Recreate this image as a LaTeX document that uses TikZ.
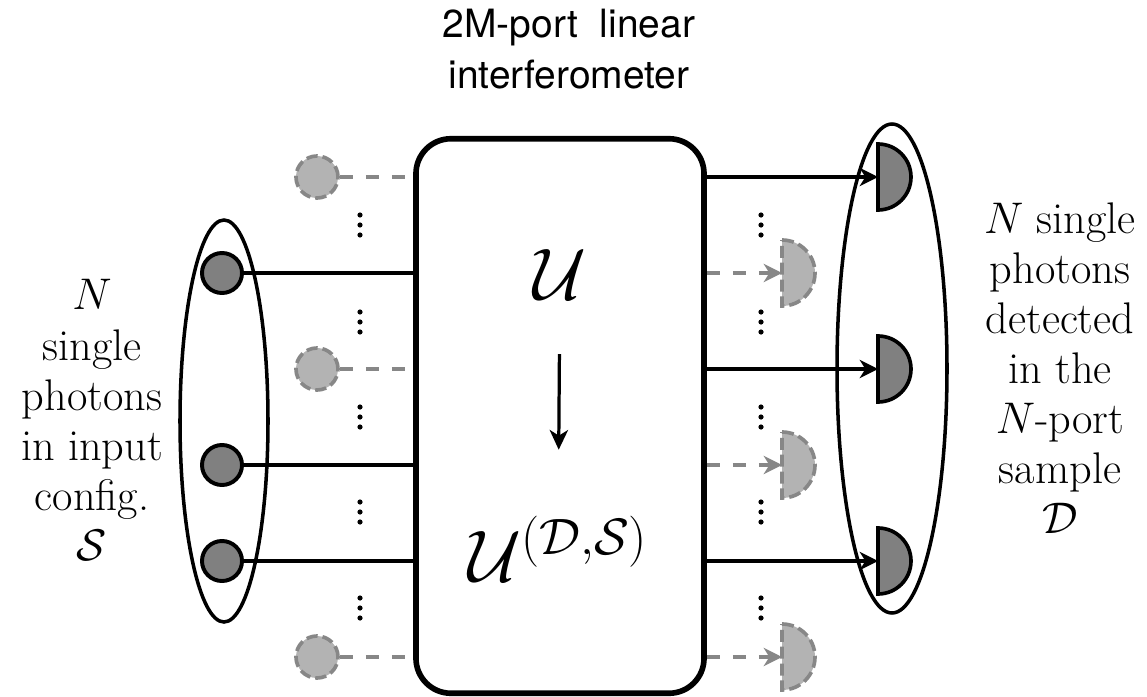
\RequirePackage{fix-cm}
\documentclass[tikz,border=0pt]{standalone}
\usepackage{amsmath,amssymb}
\usepackage{fontspec}
\newfontfamily\headfont{TeX Gyre Heros}
\usetikzlibrary{arrows.meta,positioning,calc}
\definecolor{photon}{HTML}{808080}
\definecolor{ghost}{HTML}{B3B3B3}
\definecolor{ghostline}{HTML}{878787}
\tikzset{
  wire/.style={line width=2.8pt},
  ghostwire/.style={line width=2.8pt,ghostline,dash pattern=on 9.5pt off 9pt},
  src/.style={circle,draw,line width=2.8pt,fill=photon,minimum size=1cm,inner sep=0pt},
  ghostsrc/.style={circle,draw=ghostline,fill=ghost,line width=2.6pt,
                   dash pattern=on 8pt off 3.5pt,minimum size=1.05cm,inner sep=0pt},
  det/.style={draw,line width=2.6pt,fill=photon},
  ghostdet/.style={draw=ghostline,fill=ghost,line width=2.6pt,dash pattern=on 8.5pt off 3.5pt},
  hit/.style={wire,-{Stealth[length=13pt,width=13pt,inset=4pt]}},
  ghosthit/.style={ghostwire,-{Stealth[length=13pt,width=13pt,inset=4pt]}},
  ring/.style={line width=2.5pt},
  title/.style={font=\headfont\fontsize{27.7}{36}\selectfont,align=center},
  op/.style={font=\fontsize{52}{60}\selectfont},
}
\newcommand{\detector}[2]{\path[#1] (#2) ++(0,-33) arc[start angle=-90,end angle=90,radius=33] -- cycle;}
\newcommand{\portdots}[1]{\foreach \dd in {-10,0,10} \fill (#1) ++(0,\dd) circle[radius=2.6];}

\begin{document}
\begin{tikzpicture}[font=\fontsize{31.5}{35.6}\selectfont,x=0.025cm,y=-0.025cm]
    \useasboundingbox (0,0) rectangle (1147,697);
    \node[draw,line width=4pt,rounded corners=0.875cm,minimum width=7.2cm,
          minimum height=13.86cm,inner sep=0pt] (box) at (560,416) {};
    \node[title] (head) at (569,49) {2M-port\ \ linear\\interferometer};
    \node[op] (u) at (560,275) {$\mathcal{U}$};
    \node[op] (uds) at (558,549) {$\mathcal{U}^{(\mathcal{D},\mathcal{S})}$};
    \draw[line width=2.3pt,-{Stealth[length=14pt,width=13pt,inset=4pt]},
          shorten <=35pt,shorten >=44pt] (u) -- (uds);
    \node[src] (in1) at (222,273) {};
    \node[src] (in2) at (222,465) {};
    \node[src] (in3) at (222,561) {};
    \node[ghostsrc] (g1) at (317,177) {};
    \node[ghostsrc] (g2) at (317,369) {};
    \node[ghostsrc] (g3) at (317,657) {};
    \foreach \n in {in1,in2,in3} \draw[wire] (\n) -- (\n -| box.west);
    \foreach \n in {g1,g2,g3} \draw[ghostwire] (\n) -- (\n -| box.west);
    \coordinate (d1) at (878,177);
    \coordinate (d2) at (878,369);
    \coordinate (d3) at (878,561);
    \coordinate (gd1) at (782,273);
    \coordinate (gd2) at (782,465);
    \coordinate (gd3) at (782,657);
    \foreach \n in {d1,d2,d3} {
      \draw[hit] (box.east |- \n) -- (\n);
      \detector{det}{\n}
    }
    \foreach \n in {gd1,gd2,gd3} {
      \draw[ghosthit] (box.east |- \n) -- (\n);
      \detector{ghostdet}{\n}
    }
    \foreach \y in {225,322,417,512,608} {
      \portdots{360,\y}
      \portdots{761,\y}
    }
    \draw[ring] (224,421) ellipse[x radius=44,y radius=201];
    \draw[ring] (892,368.5) ellipse[x radius=55,y radius=244.5];
    \node[align=center] (insrc) at (92,420)
      {$N$\\single\\photons\\in input\\config.\\$\mathcal{S}$};
    \node[align=center] (outdet) at (1060,368)
      {$N$ single\\photons\\detected\\in the\\$N$-port\\sample\\$\mathcal{D}$};
  \end{tikzpicture}
\end{document}
